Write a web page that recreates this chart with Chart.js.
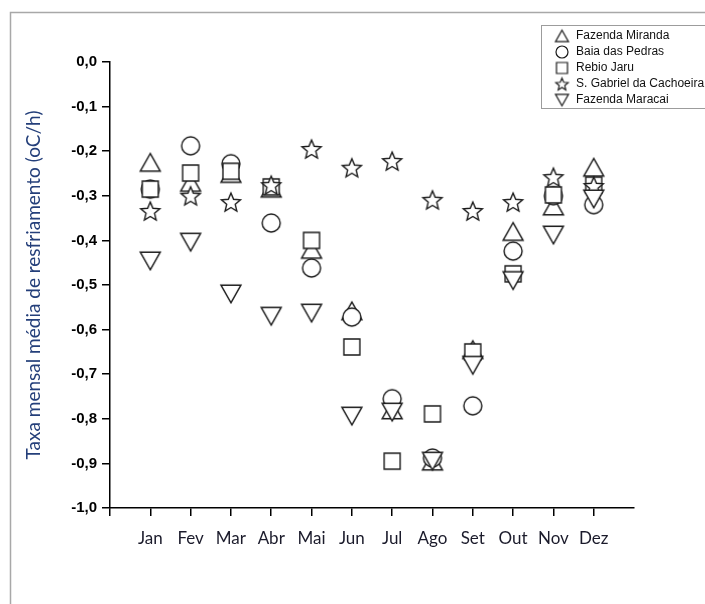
<!DOCTYPE html>
<html>
<head>
<meta charset="utf-8">
<script src="https://cdn.jsdelivr.net/npm/chart.js@4.4.1/dist/chart.umd.min.js"></script>
<style>
  html, body { margin: 0; padding: 0; background: #fff; }
</style>
</head>
<body>
<canvas id="myChart" width="705" height="604"></canvas>
<script>
// Months (x = 1..12) and y tick labels
const months = ['Jan', 'Fev', 'Mar', 'Abr', 'Mai', 'Jun', 'Jul', 'Ago', 'Set', 'Out', 'Nov', 'Dez'];
const yTickValues = [-1.0, -0.9, -0.8, -0.7, -0.6, -0.5, -0.4, -0.3, -0.2, -0.1, 0.0];
const yTickLabels = ['-1,0', '-0,9', '-0,8', '-0,7', '-0,6', '-0,5', '-0,4', '-0,3', '-0,2', '-0,1', '0,0'];

const seriesNames = ['Fazenda Miranda', 'Baia das Pedras', 'Rebio Jaru', 'S. Gabriel da Cachoeira', 'Fazenda Maracai'];

// monthly mean cooling rate (oC/h)
const mirandaValues = [-0.225, -0.27, -0.25, -0.283, -0.42, -0.558, -0.78, -0.895, -0.645, -0.38, -0.323, -0.236];
const pedrasValues  = [-0.285, -0.188, -0.228, -0.361, -0.462, -0.572, -0.755, -0.888, -0.771, -0.424, -0.30, -0.32];
const jaruValues    = [-0.285, -0.249, -0.245, -0.28, -0.40, -0.639, -0.895, -0.789, -0.65, -0.475, -0.298, -0.276];
const gabrielValues = [-0.334, -0.30, -0.314, -0.276, -0.195, -0.237, -0.222, -0.309, -0.334, -0.314, -0.258, -0.278];
const maracaiValues = [-0.446, -0.404, -0.52, -0.57, -0.563, -0.794, -0.785, -0.895, -0.68, -0.49, -0.388, -0.307];

const markerKinds = ['up', 'circle', 'square', 'star', 'down'];

//Builds a small canvas with an open (white filled) symbol centred in it
function makeMarker(kind, s, lw) {
    const size = Math.ceil(s + 6);
    const c = document.createElement('canvas');
    c.width = size;
    c.height = size;
    const g = c.getContext('2d');
    const m = size / 2;
    g.lineWidth = lw;
    g.strokeStyle = '#1a1a1a';
    g.fillStyle = '#fff';
    g.lineJoin = 'miter';
    g.beginPath();
    if (kind === 'up' || kind === 'down') {
        const h = s * 0.88;
        const d = kind === 'up' ? 1 : -1;
        g.moveTo(m, m - d * h / 2);
        g.lineTo(m + s / 2, m + d * h / 2);
        g.lineTo(m - s / 2, m + d * h / 2);
        g.closePath();
    } else if (kind === 'circle') {
        g.arc(m, m, s / 2, 0, Math.PI * 2);
    } else if (kind === 'square') {
        g.rect(m - s / 2, m - s / 2, s, s);
    } else if (kind === 'star') {
        const R = s / 2, r = R * 0.45, cy = m + R * 0.095;
        for (let i = 0; i < 10; i++) {
            const a = -Math.PI / 2 + i * Math.PI / 5;
            const rr = i % 2 ? r : R;
            g.lineTo(m + rr * Math.cos(a), cy + rr * Math.sin(a));
        }
        g.closePath();
    }
    g.fill();
    g.stroke();
    return c;
}

const plotSizes = { up: 20, circle: 18, square: 16, star: 20, down: 20 };
const legendSizes = { up: 13, circle: 12, square: 11, star: 13, down: 13 };

const plotMarkers = markerKinds.map(k => makeMarker(k, plotSizes[k], 1.4));
const legendMarkers = markerKinds.map(k => makeMarker(k, legendSizes[k], 1.2));

const allValues = [mirandaValues, pedrasValues, jaruValues, gabrielValues, maracaiValues];

const datasets = allValues.map((vals, i) => ({
    label: seriesNames[i],
    data: vals.map((v, j) => ({ x: j + 1, y: v })),
    pointStyle: plotMarkers[i],
    pointRadius: 10,
    showLine: false,
    order: 5 - i   // first series drawn first, last one on top
}));

//Draws the outer frame and the boxed legend
const frameAndLegend = {
    id: 'frameAndLegend',
    afterDraw(chart) {
        const ctx = chart.ctx;
        ctx.save();
        ctx.strokeStyle = '#a8a8a8';
        ctx.lineWidth = 1.5;
        ctx.beginPath();
        ctx.moveTo(10.5, 604);
        ctx.lineTo(10.5, 12.5);
        ctx.lineTo(705, 12.5);
        ctx.stroke();

        ctx.strokeStyle = '#9c9c9c';
        ctx.lineWidth = 1;
        ctx.strokeRect(541.5, 25.5, 180, 83);

        ctx.font = '12px "Liberation Sans", Arial, sans-serif';
        ctx.fillStyle = '#111';
        ctx.textBaseline = 'middle';
        seriesNames.forEach((name, i) => {
            const y = 36 + i * 16;
            const mk = legendMarkers[i];
            ctx.drawImage(mk, 562 - mk.width / 2, y - mk.height / 2);
            ctx.fillText(name, 576, y);
        });
        ctx.restore();
    }
};

const axisLine = { display: true, color: '#000', width: 1.5 };
const tickGrid = { display: true, drawOnChartArea: false, drawTicks: true, tickLength: 8, color: '#000', lineWidth: 1.5 };

const chart = new Chart(document.getElementById('myChart'), {
    type: 'scatter',
    data: { datasets: datasets },
    options: {
        responsive: false,
        animation: false,
        events: [],
        layout: { padding: { top: 62, right: 71, bottom: 0, left: 0 } },
        plugins: {
            legend: { display: false },
            tooltip: { enabled: false }
        },
        scales: {
            x: {
                type: 'linear',
                min: 0,
                max: 13,
                afterBuildTicks: s => { s.ticks = [0].concat(months.map((m, i) => i + 1)).map(v => ({ value: v })); },
                afterFit: s => { s.height = 96; },
                ticks: {
                    autoSkip: false,
                    maxRotation: 0,
                    padding: 12,
                    color: '#1b1b2b',
                    font: { family: 'Lato, "Open Sans", sans-serif', size: 17 },
                    callback: v => months[v - 1] || ''
                },
                grid: tickGrid,
                border: axisLine
            },
            y: {
                type: 'linear',
                min: -1,
                max: 0,
                afterBuildTicks: s => { s.ticks = yTickValues.map(v => ({ value: v })); },
                afterFit: s => { s.width = 110; },
                ticks: {
                    padding: 5,
                    color: '#000',
                    font: { family: '"Liberation Sans", Arial, sans-serif', size: 15, weight: 'bold' },
                    callback: (v, i) => yTickLabels[i]
                },
                grid: tickGrid,
                border: axisLine,
                title: {
                    display: true,
                    text: 'Taxa mensal média de resfriamento (oC/h)',
                    color: '#243f7a',
                    font: { family: 'Lato, "Open Sans", sans-serif', size: 19 },
                    padding: { top: 22, bottom: 0 }
                }
            }
        }
    },
    plugins: [frameAndLegend]
});
</script>
</body>
</html>
